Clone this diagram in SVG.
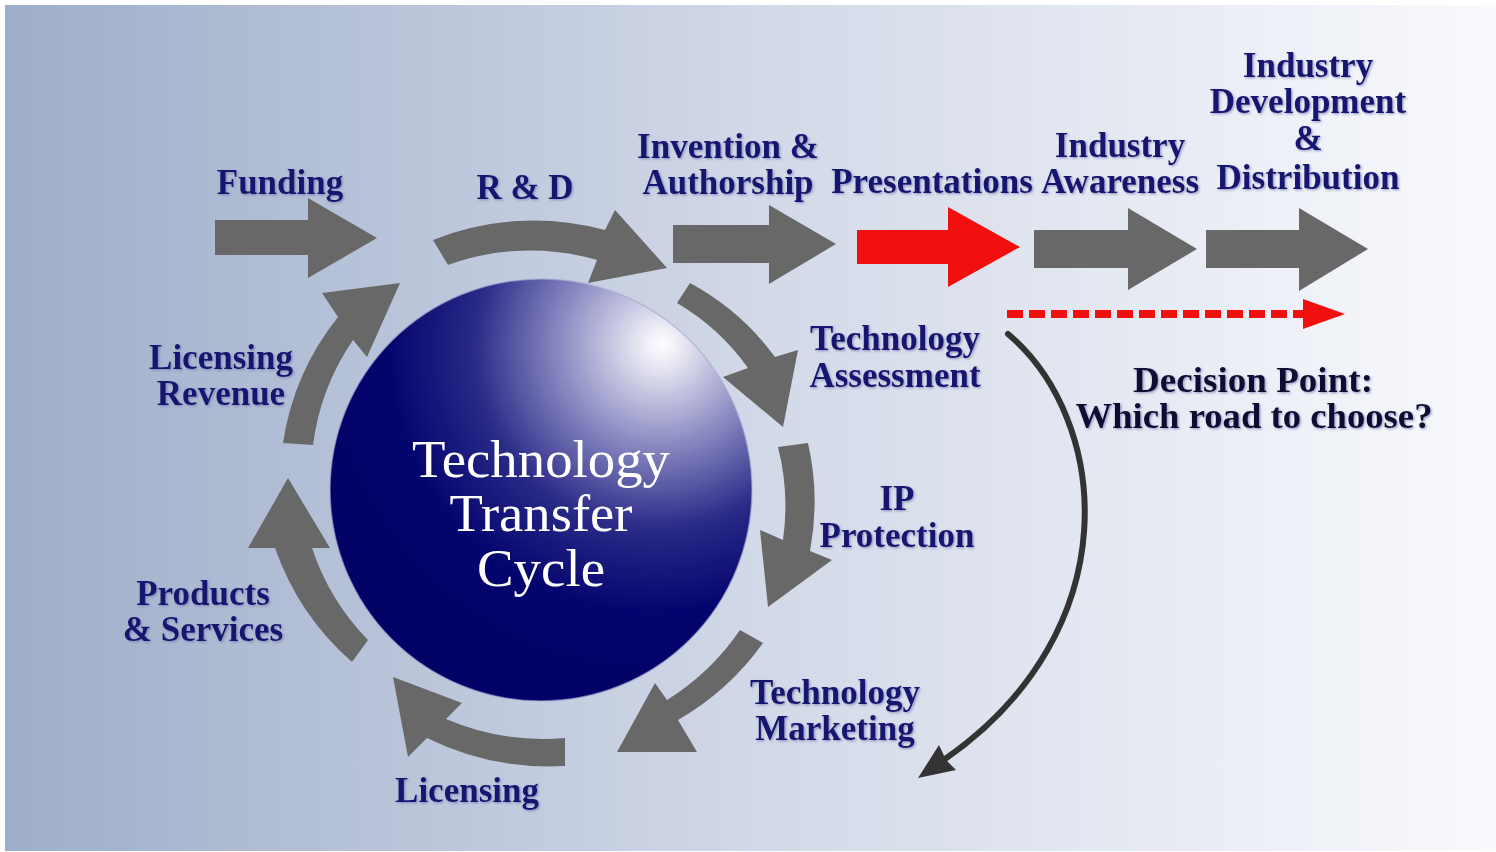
<svg xmlns="http://www.w3.org/2000/svg" width="1496" height="852" viewBox="0 0 1496 852">
  <defs>
    <linearGradient id="bg" x1="5" y1="0" x2="1496" y2="0" gradientUnits="userSpaceOnUse">
      <stop offset="0" stop-color="#9eaeca"/>
      <stop offset="0.5" stop-color="#d1d8e7"/>
      <stop offset="1" stop-color="#f9fafd"/>
    </linearGradient>
    <radialGradient id="sphere" gradientUnits="userSpaceOnUse" cx="650" cy="350" r="330" fx="662" fy="344">
      <stop offset="0" stop-color="#ffffff"/>
      <stop offset="0.07" stop-color="#e6e6f2"/>
      <stop offset="0.3" stop-color="#8a8ac2"/>
      <stop offset="0.55" stop-color="#2a2a88"/>
      <stop offset="0.8" stop-color="#04046e"/>
      <stop offset="1" stop-color="#020266"/>
    </radialGradient>
    <filter id="ts" x="-10%" y="-20%" width="120%" height="150%">
      <feDropShadow dx="1.2" dy="1.2" stdDeviation="0.8" flood-color="#7070b0" flood-opacity="0.7"/>
    </filter>
    <style>
      .lbl { font-family: "Liberation Serif", "Times New Roman", serif; font-weight: bold; font-size: 35px; fill: #13136f; text-anchor: middle; filter: url(#ts); }
      .dec { font-family: "Liberation Serif", "Times New Roman", serif; font-weight: bold; font-size: 35px; fill: #0a0a32; text-anchor: middle; filter: url(#ts); }
      .ctr { font-family: "Liberation Serif", "Times New Roman", serif; font-size: 52px; fill: #ffffff; text-anchor: middle; }
      .gray { fill: #686868; }
      .red { fill: #f20f0f; }
    </style>
  </defs>

  <rect x="0" y="0" width="1496" height="852" fill="#ffffff"/>
  <rect x="5" y="5" width="1491" height="846" fill="url(#bg)"/>

  <g id="connectors">
    <!-- straight flow arrows -->
    <path class="gray" d="M215,220 H308 V198 L377,238 L308,278 V255 H215 Z"/>
    <path class="gray" d="M673,225 H769 V205 L836,244 L769,284 V263 H673 Z"/>
    <path class="red" d="M857,230 H948 V207 L1020,247 L948,287 V264 H857 Z"/>
    <path class="gray" d="M1034,230 H1128 V208 L1197,249 L1128,290 V268 H1034 Z"/>
    <path class="gray" d="M1206,230 H1299 V208 L1368,249 L1299,291 V268 H1206 Z"/>
    <!-- dashed red arrow -->
    <line x1="1007" y1="314" x2="1306" y2="314" stroke="#f20f0f" stroke-width="8" stroke-dasharray="16 6"/>
    <path class="red" d="M1303,299 L1345,314 L1303,329 Z"/>
    <!-- cycle arrows -->
    <path class="gray" d="M433,240 A270,270 0 0,1 605,230 L615,210 L667,268 L588,283 L597,260 A240,240 0 0,0 448,265 Z"/>
    <path class="gray" d="M690,283 A255,255 0 0,1 775,357 L798,350 L783,427 L723,377 L748,368 A230,230 0 0,0 677,303 Z"/>
    <path class="gray" d="M808,443 A265,265 0 0,1 810,551 L832,560 L768,607 L760,530 L783,540 A240,240 0 0,0 778,447 Z"/>
    <path class="gray" d="M763,643 A270,270 0 0,1 678,720 L697,752 L617,752 L655,683 L667,700 A245,245 0 0,0 740,630 Z"/>
    <path class="gray" d="M565,766 A275,275 0 0,1 427,738 L408,757 L393,677 L462,703 L446,719 A248,248 0 0,0 565,738 Z"/>
    <path class="gray" d="M352,662 A270,270 0 0,1 275,548 L248,548 L288,478 L330,548 L312,548 A240,240 0 0,0 368,640 Z"/>
    <path class="gray" d="M283,443 A265,265 0 0,1 338,317 L322,293 L400,283 L367,357 L353,340 A240,240 0 0,0 313,445 Z"/>
    <!-- decision curve arrow -->
    <path d="M1008,334 C1110,420 1130,630 945,759" fill="none" stroke="#333333" stroke-width="6" stroke-linecap="round"/>
    <path d="M918,778 L939,745 L946,760 L956,770 Z" fill="#333333"/>
  </g>

  <g id="cycle-sphere">
    <circle cx="541" cy="490" r="211" fill="url(#sphere)" stroke="#a8a8d4" stroke-opacity="0.6" stroke-width="1.5"/>
    <text class="ctr" x="541" y="477" textLength="258" lengthAdjust="spacingAndGlyphs">Technology</text>
    <text class="ctr" x="541" y="531" textLength="183" lengthAdjust="spacingAndGlyphs">Transfer</text>
    <text class="ctr" x="541" y="586" textLength="128" lengthAdjust="spacingAndGlyphs">Cycle</text>
  </g>

  <g id="funding"><text class="lbl" x="280" y="194">Funding</text></g>
  <g id="rd"><text class="lbl" x="525" y="199">R &amp; D</text></g>
  <g id="invention">
    <text class="lbl" x="728" y="158">Invention &amp;</text>
    <text class="lbl" x="728" y="194">Authorship</text>
  </g>
  <g id="presentations"><text class="lbl" x="932" y="193">Presentations</text></g>
  <g id="industry-awareness">
    <text class="lbl" x="1120" y="157">Industry</text>
    <text class="lbl" x="1120" y="193">Awareness</text>
  </g>
  <g id="industry-development">
    <text class="lbl" x="1308" y="77">Industry</text>
    <text class="lbl" x="1308" y="113">Development</text>
    <text class="lbl" x="1308" y="150">&amp;</text>
    <text class="lbl" x="1308" y="189">Distribution</text>
  </g>
  <g id="technology-assessment">
    <text class="lbl" x="895" y="350">Technology</text>
    <text class="lbl" x="895" y="387">Assessment</text>
  </g>
  <g id="ip-protection">
    <text class="lbl" x="897" y="510">IP</text>
    <text class="lbl" x="897" y="547">Protection</text>
  </g>
  <g id="technology-marketing">
    <text class="lbl" x="835" y="704">Technology</text>
    <text class="lbl" x="835" y="740">Marketing</text>
  </g>
  <g id="licensing"><text class="lbl" x="467" y="802">Licensing</text></g>
  <g id="products-services">
    <text class="lbl" x="203" y="605">Products</text>
    <text class="lbl" x="203" y="641">&amp; Services</text>
  </g>
  <g id="licensing-revenue">
    <text class="lbl" x="221" y="369">Licensing</text>
    <text class="lbl" x="221" y="405">Revenue</text>
  </g>
  <g id="decision-point">
    <text class="dec" x="1253" y="392" textLength="240" lengthAdjust="spacingAndGlyphs">Decision Point:</text>
    <text class="dec" x="1254" y="428" textLength="357" lengthAdjust="spacingAndGlyphs">Which road to choose?</text>
  </g>
</svg>
